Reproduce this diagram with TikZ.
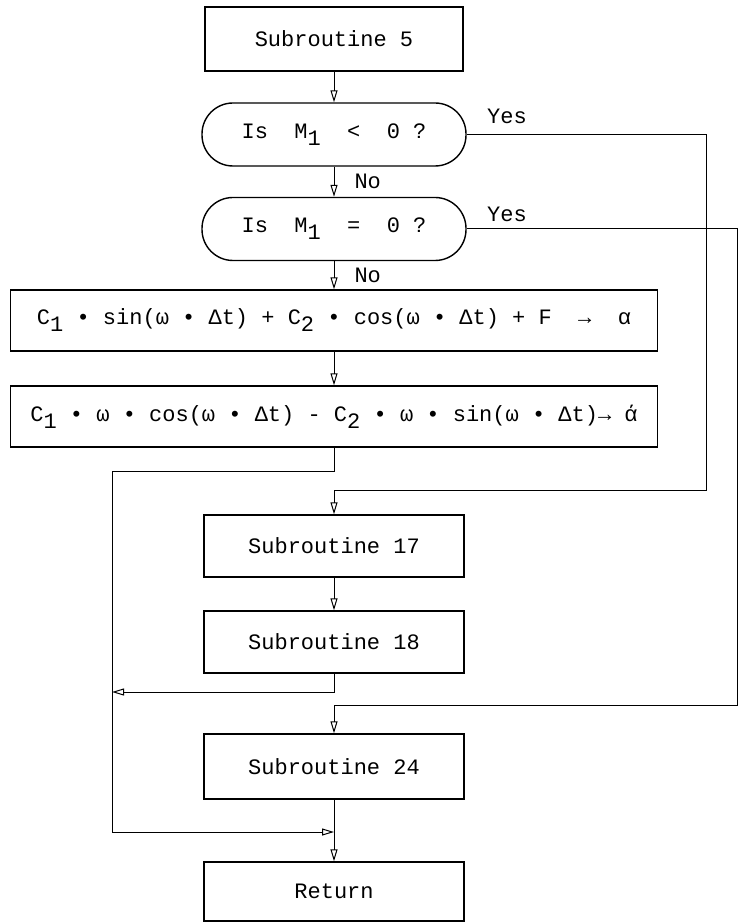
\documentclass[tikz,border=0pt]{standalone}
\usepackage{fontspec}
\newfontfamily\typefont{Liberation Mono}
\usetikzlibrary{arrows.meta}
\newcommand{\sbs}[1]{\raisebox{-0.6ex}{#1}}

\begin{document}
\begin{tikzpicture}[x=0.5pt, y=-0.5pt, font=\typefont\fontsize{11}{13}\selectfont,
        box/.style={rectangle, draw, line width=0.7pt, inner sep=2pt, align=center},
        sub/.style={box, minimum width=130pt, minimum height=31pt},
        ask/.style={box, rounded corners=15.5pt, minimum width=132pt, minimum height=31.5pt},
        calc/.style={box, minimum width=323.5pt, minimum height=30.5pt},
        arr/.style={-{Triangle[open, length=6pt, width=3.5pt]}, line width=0.5pt},
        lab/.style={inner sep=1pt}]
    \useasboundingbox (0,0) rectangle (739,924);

    \node[sub, minimum width=129pt, minimum height=32pt] (sub5) at (334,39) {Subroutine 5};
    \node[ask] (ltz) at (334,134.5) {Is~~M\sbs{1}~~<~~0~?};
    \node[ask] (eqz) at (334,229) {Is~~M\sbs{1}~~=~~0~?};
    \node[calc] (alpha) at (334,320.5) {C\sbs{1} • sin(ω • Δt) + C\sbs{2} • cos(ω • Δt) + F~~→~~α};
    \node[calc] (alphadot) at (334,416.5) {C\sbs{1} • ω • cos(ω • Δt) - C\sbs{2} • ω • sin(ω • Δt)→ ά};
    \node[sub] (sub17) at (334,546) {Subroutine 17};
    \node[sub] (sub18) at (334,642) {Subroutine 18};
    \node[sub, minimum height=32.5pt] (sub24) at (334,766.5) {Subroutine 24};
    \node[sub, minimum height=29.5pt] (ret) at (334,891.5) {Return};

    % corners of the side lines
    \coordinate (yesA) at (706,490);
    \coordinate (yesB) at (737,705);
    \coordinate (loopTop) at (112,471);
    \coordinate (loopMid) at (112,692);
    \coordinate (loopEnd) at (334,832);

    \draw[arr] (sub5) -- (ltz);
    \draw[arr] (ltz) -- node[lab, right, xshift=9pt]{No} (eqz);
    \draw[arr] (eqz) -- node[lab, right, xshift=9pt]{No} (alpha);
    \draw[arr] (alpha) -- (alphadot);
    \draw[arr] (ltz.east) node[lab, anchor=south west, xshift=9pt, yshift=4pt]{Yes} -| (yesA) -| (sub17);
    \draw[arr] (eqz.east) node[lab, anchor=south west, xshift=9pt, yshift=2.5pt]{Yes} -| (yesB) -| (sub24);
    \draw[arr] (sub17) -- (sub18);
    \draw[arr] (alphadot) |- (loopTop) |- (loopEnd);
    \draw[arr] (sub18) |- (loopMid);
    \draw[arr] (sub24) -- (ret);
\end{tikzpicture}
\end{document}
